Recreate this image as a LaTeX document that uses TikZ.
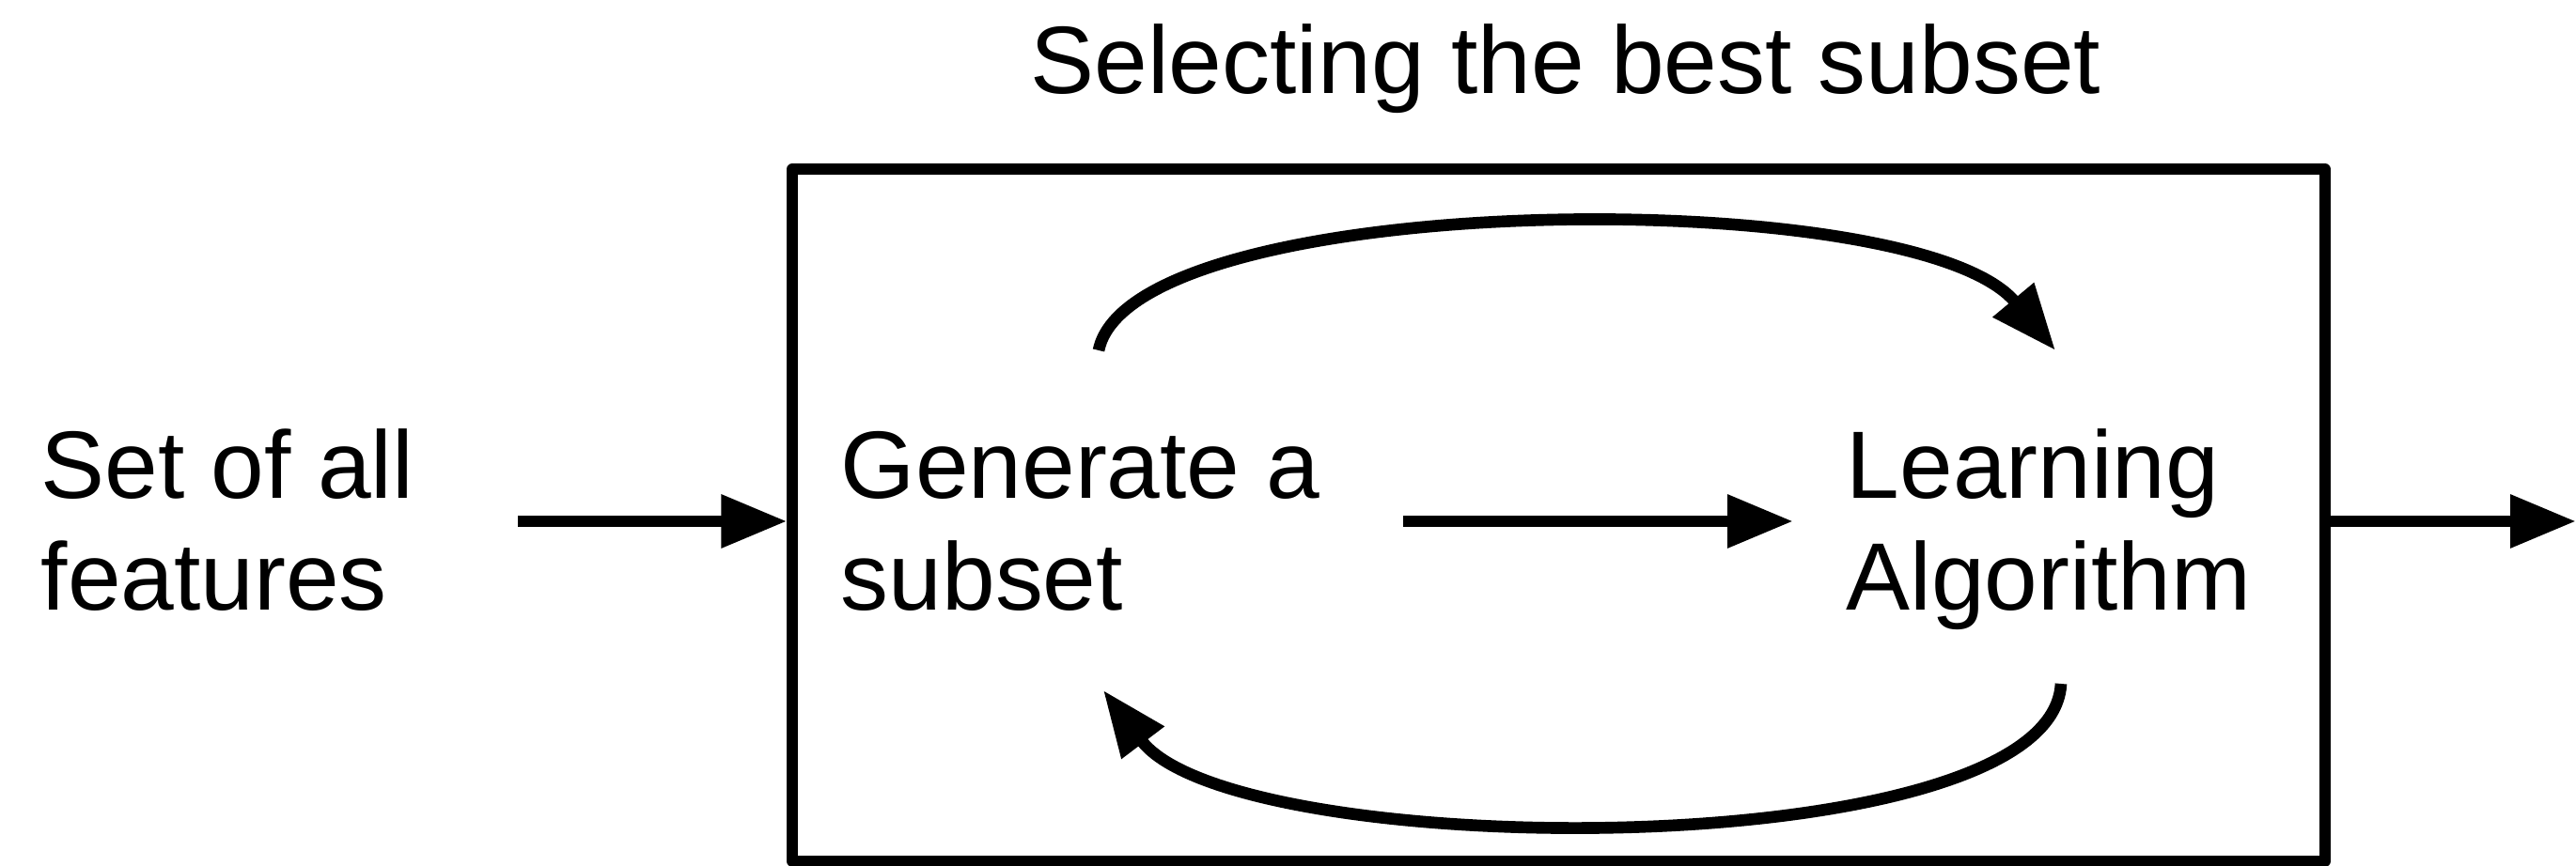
\documentclass[tikz,border=0pt]{standalone}
\usepackage{fontspec}
\setmainfont{Liberation Sans}
\usetikzlibrary{arrows.meta}
\begin{document}
\begin{tikzpicture}[lbl/.style={font=\fontsize{29}{34}\selectfont, align=left, inner sep=0pt},
				arr/.style={line width=3.6pt, -{Triangle[length=7mm, width=5.4mm]}}]
\useasboundingbox (0,0) rectangle (27.41,9.22);
\node[draw, line width=3.2pt, line join=round, minimum width=16.31cm, minimum height=7.37cm] (sel) at (16.585,3.735) {};
\node[lbl, anchor=base] (title) at (16.66,8.22) {Selecting the best subset};
\node[lbl, anchor=base west] (feat) at (0.43,2.72) {Set of all\\features};
\node[lbl, anchor=base west] (gen) at (8.94,2.72) {Generate a\\subset};
\node[lbl, anchor=base west] (learn) at (19.64,2.72) {Learning\\Algorithm};
\coordinate (in) at (5.51,3.67);
\coordinate (out) at (27.41,3.67);
\coordinate (ts) at (11.69,5.49);
\coordinate (te) at (21.87,5.49);
\coordinate (bs) at (21.93,1.94);
\coordinate (be) at (11.74,1.87);
\draw[arr] (in) -- (in -| sel.west);
\draw[arr] ([xshift=8.8mm]gen.east |- in) -- ([xshift=-5.6mm]learn.west |- in);
\draw[arr] (sel.east |- out) -- (out);
\draw[arr] (ts) .. controls +(0.35,1.72) and +(-1.5,1.8) .. (te);
\draw[arr] (bs) .. controls +(-0.1,-1.95) and +(1.4,-1.85) .. (be);
\end{tikzpicture}
\end{document}
